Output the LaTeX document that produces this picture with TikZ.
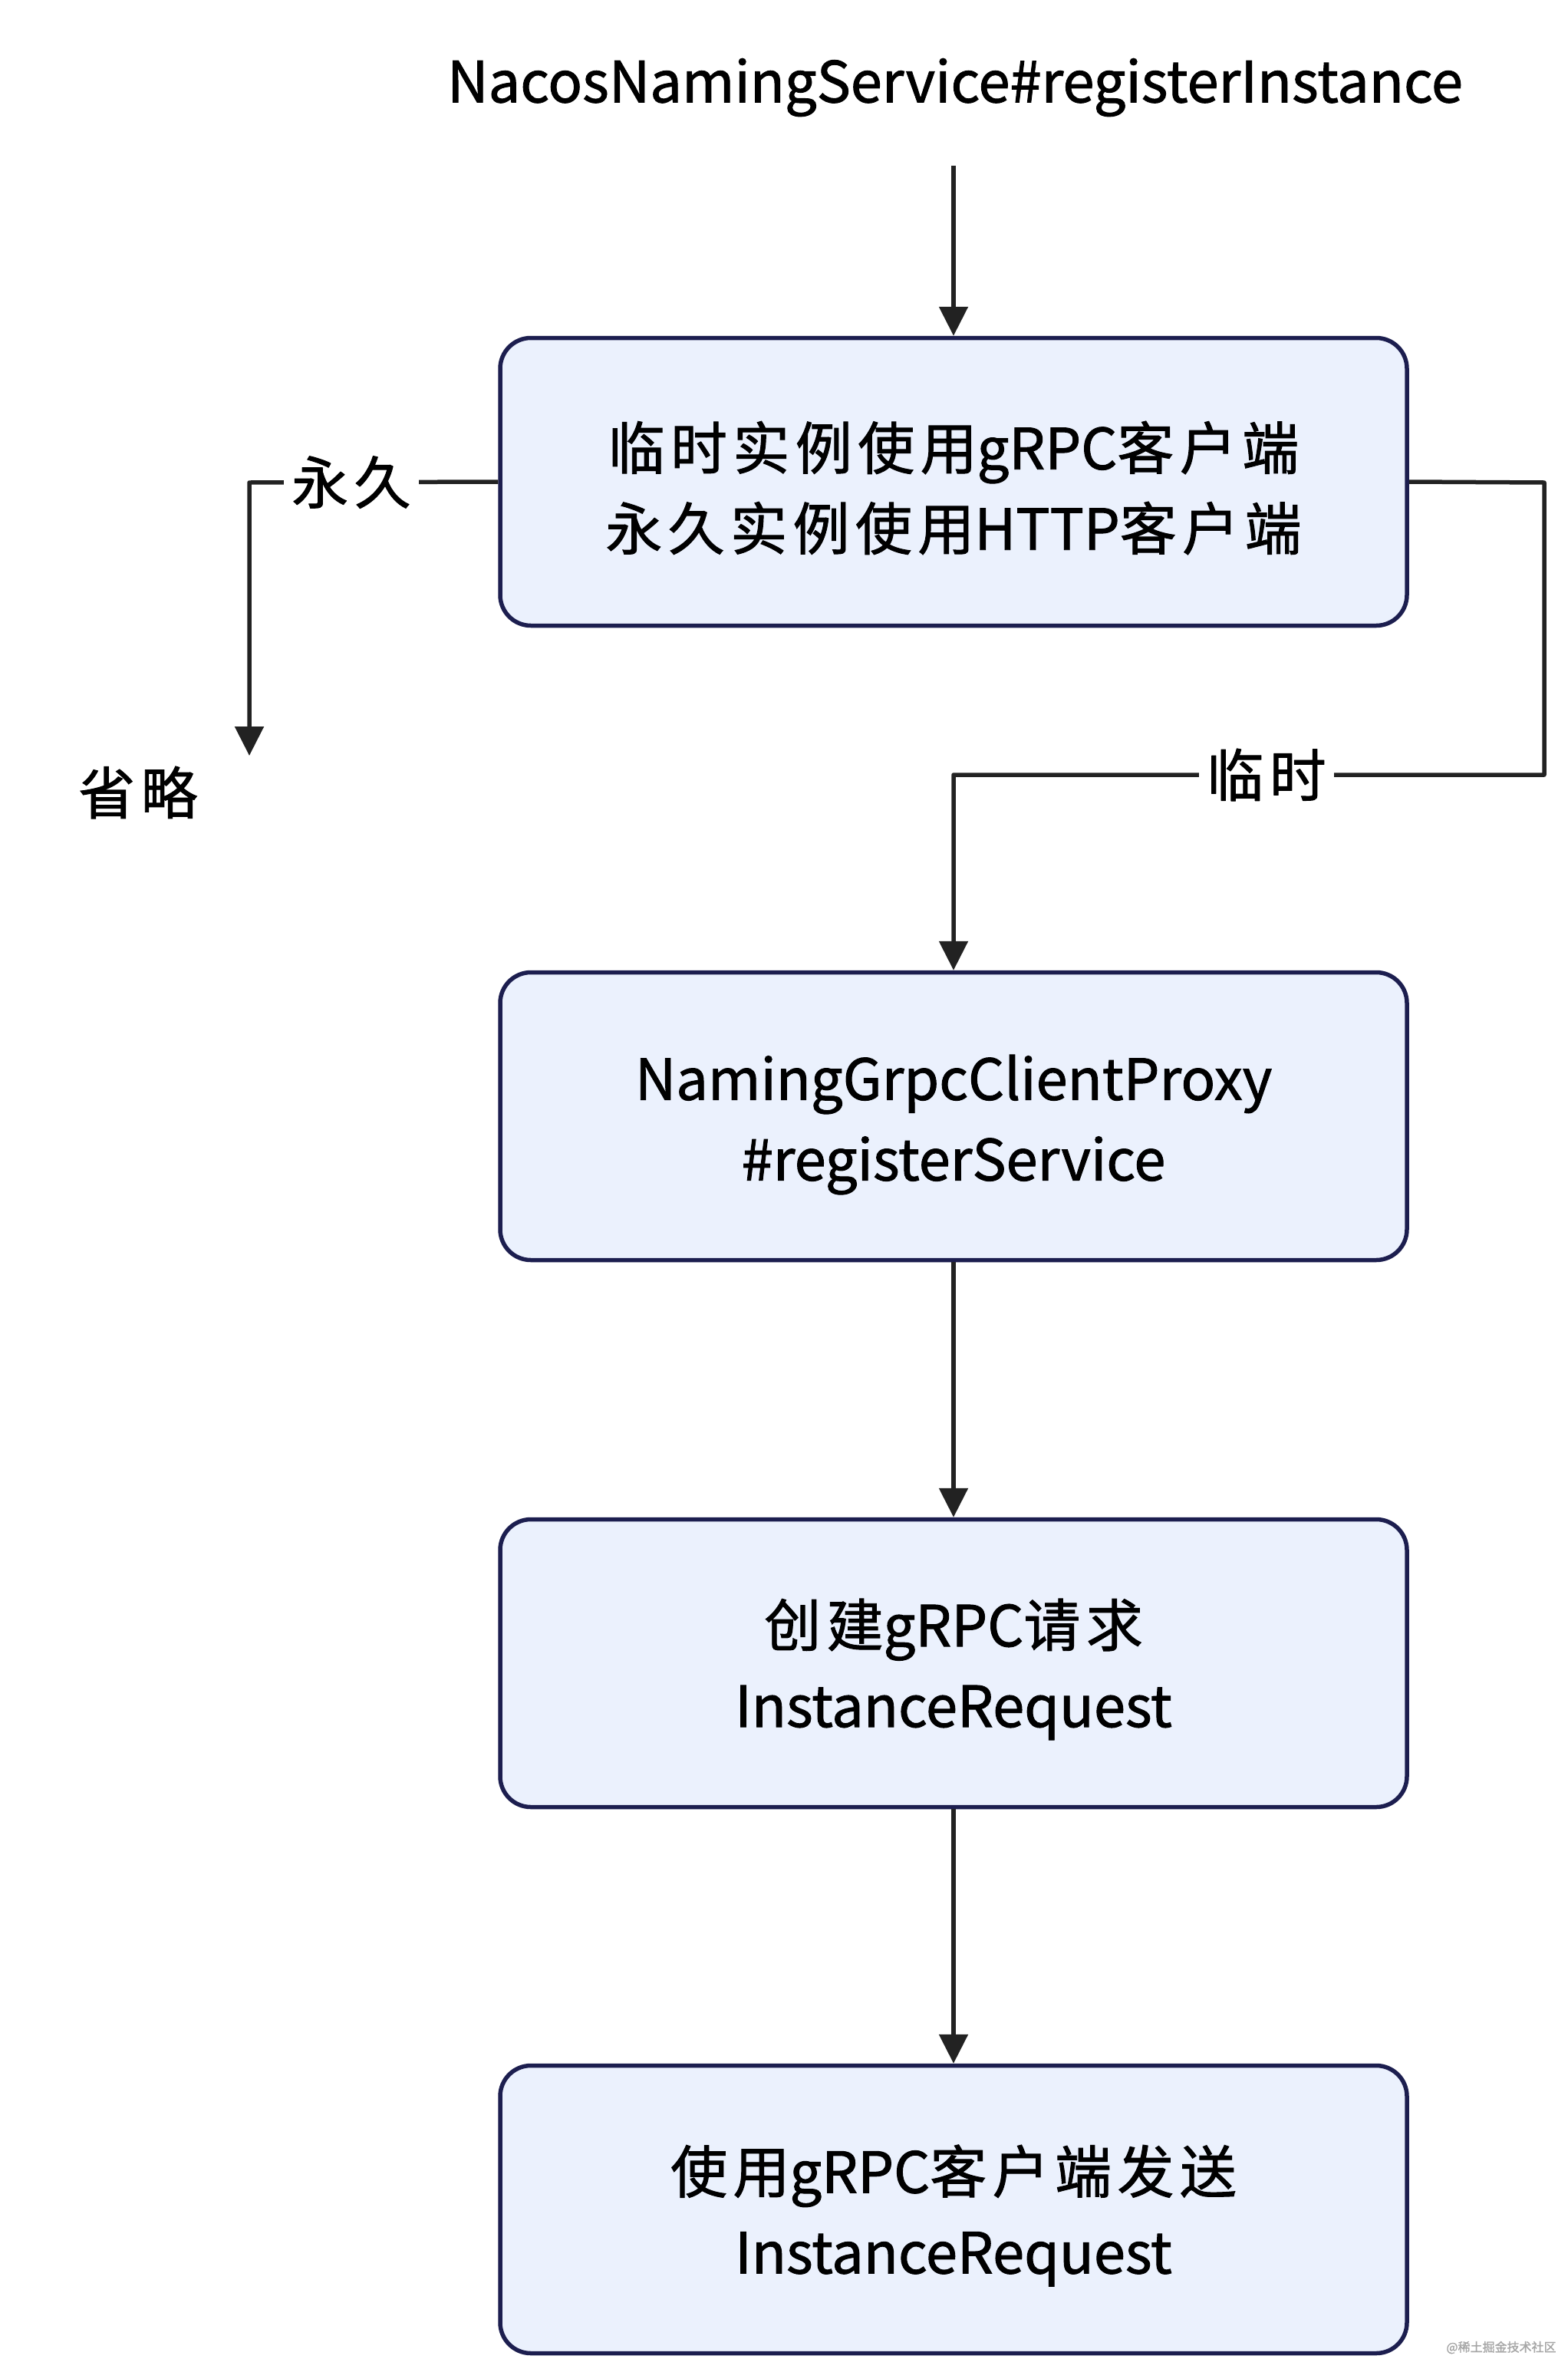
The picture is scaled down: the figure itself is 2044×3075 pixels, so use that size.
\documentclass[tikz,border=0pt]{standalone}
\usepackage{fontspec}
\setmainfont{Noto Sans CJK SC}[FakeBold=1.3]
\newfontfamily\zh{Noto Sans CJK SC}[LetterSpace=10,FakeBold=1.3]
\usetikzlibrary{arrows.meta}
\definecolor{boxfill}{HTML}{EBF1FD}
\definecolor{boxdraw}{HTML}{1C1E4F}
\definecolor{linec}{HTML}{222222}
\begin{document}
\begin{tikzpicture}[x=1pt,y=-1pt,
  box/.style={draw=boxdraw, fill=boxfill, line width=5.5pt, rounded corners=40pt,
    minimum width=1182pt, minimum height=375pt, inner sep=0pt},
  btext/.style={align=center, inner sep=0pt, font=\fontsize{74}{105}\selectfont},
  conn/.style={draw=linec, line width=5.5pt, line join=round,
    -{Triangle[length=38pt,width=37pt]}},
  lbl/.style={fill=white, inner sep=10pt, font=\fontsize{74}{88}\selectfont},
  plain/.style={inner sep=0pt, font=\fontsize{74}{88}\selectfont},
  wmark/.style={inner sep=0pt, text=gray!70, font=\fontsize{16}{18}\selectfont}]
\useasboundingbox[fill=white] (0,0) rectangle (2044,3075);
\node[plain] (title) at (1245,114) {NacosNamingService\#registerInstance};
\coordinate (titlebot) at (1243,216);
\node[box] (b1) at (1243,628) {};
\node[box] (b2) at (1243,1455) {};
\node[box] (b3) at (1243,2168) {};
\node[box] (b4) at (1243,2880) {};
\node[btext] (t1) at (1243,636) {{\zh 临时实例使用}gRPC{\zh 客户端}\\{\zh 永久实例使用}HTTP{\zh 客户端}};
\node[btext] (t2) at (1243,1466) {NamingGrpcClientProxy\\\#registerService};
\node[btext] (t3) at (1243,2176) {{\zh 创建}gRPC{\zh 请求}\\InstanceRequest};
\node[btext] (t4) at (1243,2888) {{\zh 使用}gRPC{\zh 客户端发送}\\InstanceRequest};
\node[plain] (omit) at (180,1033) {\zh 省略};
\coordinate (omitend) at (325,985);
\node[wmark] (wm) at (1957,3060) {@稀土掘金技术社区};
\draw[conn] (titlebot) -- (b1.north);
\draw[conn] (b1.west) -- node[lbl,pos=0.59]{\zh 永久} (325,629) -- (omitend);
\draw[conn] (b1.east) -- (2013,629) -- (2013,1010) -- node[lbl,pos=0.47]{\zh 临时} (1243,1010) -- (b2.north);
\draw[conn] (b2.south) -- (b3.north);
\draw[conn] (b3.south) -- (b4.north);
\end{tikzpicture}
\end{document}
